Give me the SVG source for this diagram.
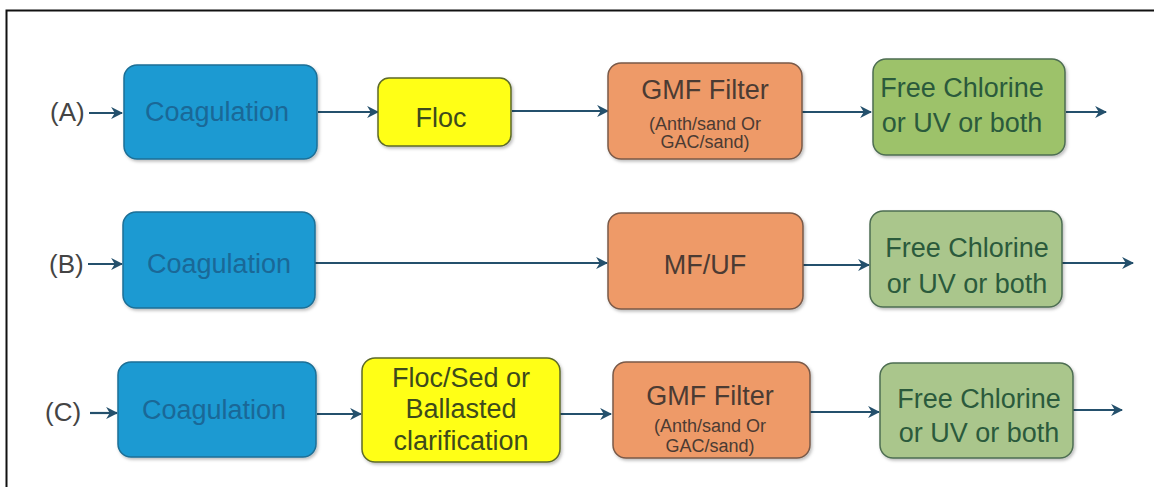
<svg xmlns="http://www.w3.org/2000/svg" width="1154" height="487" viewBox="0 0 1154 487">
<style>
text{font-family:"Liberation Sans",Arial,sans-serif}
.lbl{font-size:26px;fill:#444}
.big{font-size:27px;text-anchor:middle}
.sm{font-size:18px;text-anchor:middle;fill:#4b3b33}
.coag rect{fill:#1b9ad2;stroke:#1d6f96;stroke-width:1.5}
.coag text{fill:#1a6897}
.yel rect{fill:#ffff12;stroke:#5d6a2a;stroke-width:1.5}
.yel text{fill:#3d4a1c}
.sal rect{fill:#ee9a68;stroke:#7a5a48;stroke-width:1.5}
.sal text.big{fill:#4b3b33}
.grn rect{fill:#aac68c;stroke:#4e6e52;stroke-width:1.5}
.grnA rect{fill:#9dc26b}
.grn text{fill:#2b5a3c}
.conn line{stroke:#24506c;stroke-width:2.2;marker-end:url(#ah)}
.frame{stroke:#111;stroke-width:2;fill:none}
</style>
<defs>
<marker id="ah" viewBox="0 0 10 10" refX="9" refY="5" markerWidth="5.5" markerHeight="5.5" orient="auto" markerUnits="strokeWidth">
<path d="M0,0 L10,5 L0,10 L3,5 Z" fill="#24506c"/>
</marker>
<filter id="sh" x="-5%" y="-5%" width="115%" height="120%">
<feDropShadow dx="1.5" dy="2" stdDeviation="1.5" flood-color="#000" flood-opacity="0.25"/>
</filter>
</defs>
<rect width="1154" height="487" fill="#fff"/>
<path class="frame" d="M6.5,487 V10.5 H1154"/>

<g id="labels">
<text class="lbl" x="50" y="121">(A)</text>
<text class="lbl" x="49" y="273">(B)</text>
<text class="lbl" x="45" y="421">(C)</text>
</g>

<g id="connectors" class="conn">
<line x1="89" y1="113" x2="122" y2="113"/>
<line x1="318" y1="112" x2="378" y2="112"/>
<line x1="512" y1="111" x2="608" y2="111"/>
<line x1="802" y1="112" x2="871" y2="112"/>
<line x1="1066" y1="112" x2="1106" y2="112"/>
<line x1="88" y1="264" x2="122" y2="264"/>
<line x1="315" y1="263" x2="607" y2="263"/>
<line x1="803" y1="265" x2="869" y2="265"/>
<line x1="1062" y1="263" x2="1133" y2="263"/>
<line x1="90" y1="413" x2="117" y2="413"/>
<line x1="317" y1="414" x2="361" y2="414"/>
<line x1="560" y1="414" x2="611" y2="414"/>
<line x1="810" y1="412" x2="879" y2="412"/>
<line x1="1073" y1="410" x2="1122" y2="410"/>
</g>

<g id="coagA" class="coag"><rect x="124" y="65" width="193" height="94" rx="13" filter="url(#sh)"/><text class="big" x="217" y="121">Coagulation</text></g>
<g id="flocA" class="yel"><rect x="378" y="78" width="133" height="68" rx="11" filter="url(#sh)"/><text class="big" x="441" y="127">Floc</text></g>
<g id="gmfA" class="sal"><rect x="608" y="63" width="194" height="96" rx="13" filter="url(#sh)"/><text class="big" x="705" y="99">GMF Filter</text><text class="sm" x="705" y="130">(Anth/sand Or</text><text class="sm" x="705" y="148">GAC/sand)</text></g>
<g id="chlA" class="grn grnA"><rect x="873" y="59" width="192" height="96" rx="13" filter="url(#sh)"/><text class="big" x="962" y="97">Free Chlorine</text><text class="big" x="962" y="132">or UV or both</text></g>

<g id="coagB" class="coag"><rect x="123" y="212" width="192" height="96" rx="13" filter="url(#sh)"/><text class="big" x="219" y="273">Coagulation</text></g>
<g id="mfuf" class="sal"><rect x="608" y="213" width="195" height="96" rx="13" filter="url(#sh)"/><text class="big" x="705" y="274">MF/UF</text></g>
<g id="chlB" class="grn"><rect x="870" y="211" width="192" height="96" rx="13" filter="url(#sh)"/><text class="big" x="967" y="257">Free Chlorine</text><text class="big" x="967" y="293">or UV or both</text></g>

<g id="coagC" class="coag"><rect x="118" y="362" width="198" height="95" rx="13" filter="url(#sh)"/><text class="big" x="214" y="419">Coagulation</text></g>
<g id="flocC" class="yel"><rect x="362" y="358" width="198" height="104" rx="13" filter="url(#sh)"/><text class="big" x="461" y="387">Floc/Sed or</text><text class="big" x="461" y="418">Ballasted</text><text class="big" x="461" y="450">clarification</text></g>
<g id="gmfC" class="sal"><rect x="613" y="362" width="197" height="96" rx="13" filter="url(#sh)"/><text class="big" x="710" y="405">GMF Filter</text><text class="sm" x="710" y="432">(Anth/sand Or</text><text class="sm" x="710" y="452">GAC/sand)</text></g>
<g id="chlC" class="grn"><rect x="880" y="363" width="193" height="95" rx="13" filter="url(#sh)"/><text class="big" x="979" y="408">Free Chlorine</text><text class="big" x="979" y="442">or UV or both</text></g>
</svg>
